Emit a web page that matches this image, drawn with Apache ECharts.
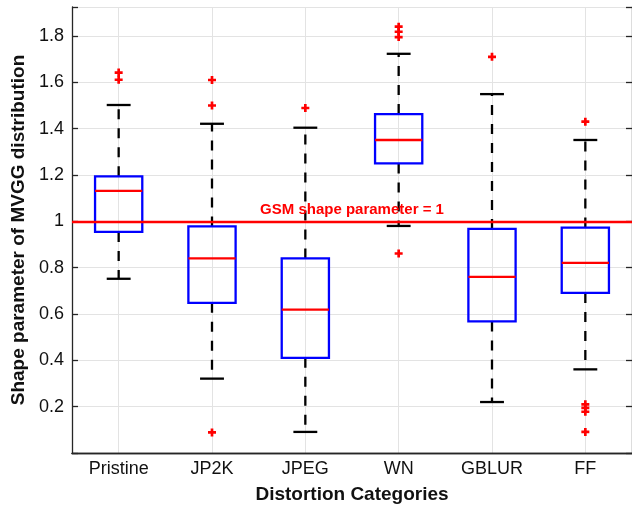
<!DOCTYPE html>
<html>
<head>
    <meta charset="utf-8">
    <title>MVGG shape parameter</title>
    <script src="https://cdn.jsdelivr.net/npm/echarts@6/dist/echarts.min.js"></script>
</head>
<body style="margin:0">
    <div id="main" style="width:632px;height:510px"></div>
    <script type="text/javascript">
        // distortion categories and box statistics
        var categories = ['Pristine', 'JP2K', 'JPEG', 'WN', 'GBLUR', 'FF'];
        var lowerWhisker = [0.752, 0.321, 0.091, 0.980, 0.220, 0.361];
        var lowerQuartile = [0.954, 0.648, 0.411, 1.250, 0.568, 0.691];
        var medians = [1.131, 0.840, 0.619, 1.351, 0.760, 0.821];
        var upperQuartile = [1.194, 0.978, 0.840, 1.463, 0.967, 0.973];
        var upperWhisker = [1.502, 1.421, 1.404, 1.723, 1.549, 1.351];
        var outliers = [
            ['Pristine', 1.642], ['Pristine', 1.611],
            ['JP2K', 1.610], ['JP2K', 1.500], ['JP2K', 0.089],
            ['JPEG', 1.489],
            ['WN', 1.840], ['WN', 1.818], ['WN', 1.795], ['WN', 0.861],
            ['GBLUR', 1.710],
            ['FF', 1.430], ['FF', 0.210], ['FF', 0.195], ['FF', 0.178], ['FF', 0.091]
        ];
        var yTickLabels = ['0.2', '0.4', '0.6', '0.8', '1', '1.2', '1.4', '1.6', '1.8'];
        var gsmShape = 1;

        var font = 'Liberation Sans, Arial, Helvetica, sans-serif';
        var axisColor = '#262626';

        var boxData = categories.map(function (c, i) {
            return [i, lowerWhisker[i], lowerQuartile[i], medians[i], upperQuartile[i], upperWhisker[i]];
        });

        function renderBox(params, api) {
            var x = api.value(0);
            var band = api.size([1, 0])[0];
            var boxHalf = band * 0.253;
            var capHalf = band * 0.128;
            var pLow = api.coord([x, api.value(1)]);
            var pQ1 = api.coord([x, api.value(2)]);
            var pMed = api.coord([x, api.value(3)]);
            var pQ3 = api.coord([x, api.value(4)]);
            var pHigh = api.coord([x, api.value(5)]);
            var cx = pMed[0];
            var dashed = { stroke: '#000', lineWidth: 2.3, lineDash: [10, 9], fill: null };
            var solid = { stroke: '#000', lineWidth: 2.3, fill: null };
            return {
                type: 'group',
                children: [
                    { type: 'line', shape: { x1: cx, y1: pQ3[1], x2: cx, y2: pHigh[1] }, style: dashed },
                    { type: 'line', shape: { x1: cx, y1: pQ1[1], x2: cx, y2: pLow[1] }, style: dashed },
                    { type: 'line', shape: { x1: cx - capHalf, y1: pHigh[1], x2: cx + capHalf, y2: pHigh[1] }, style: solid },
                    { type: 'line', shape: { x1: cx - capHalf, y1: pLow[1], x2: cx + capHalf, y2: pLow[1] }, style: solid },
                    {
                        type: 'rect',
                        shape: { x: cx - boxHalf, y: pQ3[1], width: boxHalf * 2, height: pQ1[1] - pQ3[1] },
                        style: { fill: 'none', stroke: '#0000ff', lineWidth: 2.3 }
                    },
                    { type: 'line', shape: { x1: cx - boxHalf, y1: pMed[1], x2: cx + boxHalf, y2: pMed[1] }, style: { stroke: '#ff0000', lineWidth: 2.3, fill: null } }
                ]
            };
        }

        var myChart = echarts.init(document.getElementById('main'));

        var option = {
            animation: false,
            backgroundColor: '#fff',
            grid: { left: 72, right: -3, top: 7, bottom: 57 },
            xAxis: [{
                type: 'category',
                data: categories,
                position: 'bottom',
                boundaryGap: true,
                name: 'Distortion Categories',
                nameLocation: 'middle',
                nameGap: 32,
                nameTextStyle: { fontFamily: font, fontSize: 19, fontWeight: 'bold', color: '#111' },
                axisLine: { lineStyle: { color: axisColor, width: 1.3 } },
                axisTick: { inside: true, alignWithLabel: true, length: 6, lineStyle: { color: axisColor, width: 1.3 } },
                axisLabel: { fontFamily: font, fontSize: 18, color: '#111', margin: 7 },
                splitLine: { show: true, alignWithLabel: true, lineStyle: { color: '#e3e3e3', width: 1 } }
            }, {
                type: 'category',
                data: categories,
                position: 'top',
                boundaryGap: true,
                axisLine: { lineStyle: { color: axisColor, width: 1.3 } },
                axisTick: { inside: true, alignWithLabel: true, length: 6, lineStyle: { color: axisColor, width: 1.3 } },
                axisLabel: { show: false },
                splitLine: { show: false }
            }],
            yAxis: [{
                type: 'value',
                min: 0,
                max: 1.925,
                interval: 0.2,
                name: 'Shape parameter of MVGG distribution',
                nameLocation: 'middle',
                nameGap: 43,
                nameTextStyle: { fontFamily: font, fontSize: 19, fontWeight: 'bold', color: '#111' },
                axisLine: { show: true, lineStyle: { color: axisColor, width: 1.3 } },
                axisTick: { show: true, inside: true, length: 6, lineStyle: { color: axisColor, width: 1.3 } },
                axisLabel: {
                    fontFamily: font, fontSize: 18, color: '#111', margin: 8,
                    formatter: function (v) {
                        var k = Math.round(v / 0.2) - 1;
                        if (k < 0 || k >= yTickLabels.length || Math.abs(v - (k + 1) * 0.2) > 1e-6) return '';
                        return yTickLabels[k];
                    }
                },
                splitLine: { show: true, lineStyle: { color: '#e3e3e3', width: 1 } }
            }, {
                type: 'value',
                min: 0,
                max: 1.925,
                interval: 0.2,
                position: 'right',
                axisLine: { show: true, lineStyle: { color: axisColor, width: 1.3 } },
                axisTick: { show: true, inside: true, length: 6, lineStyle: { color: axisColor, width: 1.3 } },
                axisLabel: { show: false },
                splitLine: { show: false }
            }],
            series: [{
                type: 'custom',
                name: 'boxes',
                xAxisIndex: 0,
                yAxisIndex: 0,
                renderItem: renderBox,
                encode: { x: 0, y: [1, 2, 3, 4, 5] },
                data: boxData,
                z: 3
            }, {
                type: 'scatter',
                name: 'outliers',
                xAxisIndex: 0,
                yAxisIndex: 0,
                symbol: 'path://M3,0H6V3H9V6H6V9H3V6H0V3H3Z',
                symbolSize: 8,
                itemStyle: { color: '#ff0000', opacity: 1 },
                data: outliers,
                z: 4,
                markLine: {
                    silent: true,
                    symbol: 'none',
                    lineStyle: { color: '#ff0000', width: 2.3, type: 'solid' },
                    label: {
                        show: true,
                        position: 'middle',
                        formatter: 'GSM shape parameter = 1',
                        fontFamily: font,
                        fontSize: 15,
                        fontWeight: 'bold',
                        color: '#ff0000',
                        distance: 4
                    },
                    data: [{ yAxis: gsmShape }],
                    z: 5
                }
            }]
        };

        myChart.setOption(option);
    </script>
</body>
</html>
